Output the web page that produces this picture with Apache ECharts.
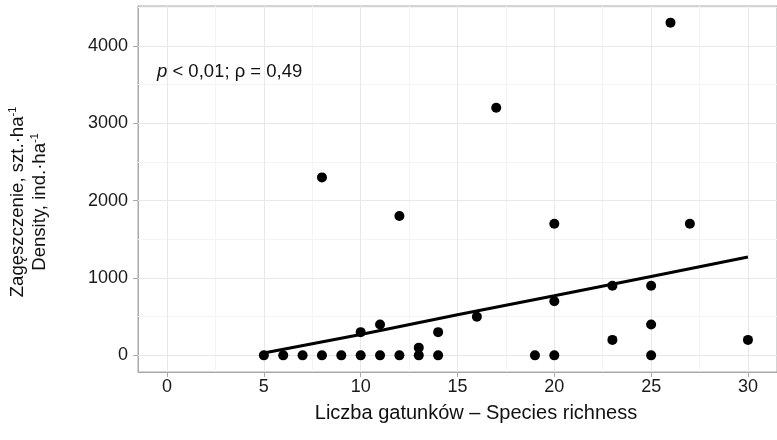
<!DOCTYPE html>
<html>
<head>
<meta charset="utf-8">
<script src="https://cdn.jsdelivr.net/npm/echarts@6/dist/echarts.min.js"></script>
<style>
  html, body { margin: 0; padding: 0; background: #fff; }
  #chart { width: 777px; height: 440px; }
</style>
</head>
<body>
<div id="chart"></div>
<script>
// observations: species richness vs density
const richness = [5, 6, 7, 8, 9, 10, 11, 12, 13, 14, 13, 14, 10, 11, 16, 19, 20, 20, 23, 23, 25, 25, 25, 30, 8, 12, 17, 20, 26, 27];
const density  = [0, 0, 0, 0, 0, 0, 0, 0, 0, 0, 100, 300, 300, 400, 500, 0, 0, 700, 200, 900, 900, 400, 0, 200, 2300, 1800, 3200, 1700, 4300, 1700];

// fitted trend line
const fitX = [5, 10, 15, 20, 25, 30];
const fitY = [30, 270, 525, 770, 1020, 1270];

// axis breaks
const xTicks = [0, 5, 10, 15, 20, 25, 30];
const xMinor = [2.5, 7.5, 12.5, 17.5, 22.5, 27.5];
const yTicks = [0, 1000, 2000, 3000, 4000];
const yMinor = [500, 1500, 2500, 3500, 4500];

const FONT = 'Liberation Sans';
const AXIS_GREY = '#a8a8a8';

const chart = echarts.init(document.getElementById('chart'));

const gridLines = [
  ...xMinor.map(v => ({ xAxis: v, lineStyle: { color: '#f4f4f4' } })),
  ...yMinor.map(v => ({ yAxis: v, lineStyle: { color: '#f4f4f4' } })),
  ...xTicks.map(v => ({ xAxis: v, lineStyle: { color: '#e8e8e8' } })),
  ...yTicks.map(v => ({ yAxis: v, lineStyle: { color: '#e8e8e8' } }))
];

chart.setOption({
  animation: false,
  backgroundColor: '#fff',

  grid: {
    left: 138, top: 6, width: 645, height: 366,
    show: true, borderColor: AXIS_GREY, borderWidth: 1
  },

  xAxis: {
    type: 'value',
    min: -1.5,
    max: 31.5,
    axisLine: { show: true, onZero: false, lineStyle: { color: AXIS_GREY, width: 1 } },
    axisTick: { show: true, length: 5, customValues: xTicks, lineStyle: { color: AXIS_GREY } },
    axisLabel: { customValues: xTicks, margin: 6, fontSize: 18, fontFamily: FONT, color: '#1a1a1a' },
    splitLine: { show: false }
  },

  yAxis: {
    type: 'value',
    min: -215,
    max: 4515,
    axisLine: { show: true, onZero: false, lineStyle: { color: AXIS_GREY, width: 1 } },
    axisTick: { show: true, length: 5, customValues: yTicks, lineStyle: { color: AXIS_GREY } },
    axisLabel: {
      customValues: yTicks,
      formatter: v => String(v),
      margin: 10, fontSize: 18, fontFamily: FONT, color: '#1a1a1a'
    },
    splitLine: { show: false }
  },

  graphic: [
    {
      type: 'text',
      x: 157, y: 72,
      style: {
        text: '{i|p} < 0,01; ρ = 0,49',
        font: '18.5px "Liberation Sans"',
        fill: '#111',
        verticalAlign: 'middle',
        rich: { i: { fontStyle: 'italic', fontSize: 18.5, fontFamily: FONT } }
      }
    },
    {
      type: 'text',
      x: 476, y: 413,
      style: {
        text: 'Liczba gatunków – Species richness',
        font: '20px "Liberation Sans"',
        fill: '#111',
        align: 'center',
        verticalAlign: 'middle'
      }
    },
    {
      type: 'text',
      x: 29, y: 202,
      rotation: Math.PI / 2,
      style: {
        text: 'Zagęszczenie, szt.·ha{sup|-1}\nDensity, ind.·ha{sup|-1}',
        font: '18.6px "Liberation Sans"',
        fill: '#111',
        align: 'center',
        verticalAlign: 'middle',
        lineHeight: 22,
        rich: {
          sup: { fontSize: 11, fontFamily: FONT, verticalAlign: 'top', lineHeight: 22 }
        }
      }
    }
  ],

  series: [
    {
      // background grid
      type: 'line',
      data: [],
      z: 1,
      silent: true,
      markLine: {
        z: 1,
        silent: true,
        symbol: 'none',
        label: { show: false },
        lineStyle: { type: 'solid', width: 1 },
        data: gridLines
      }
    },
    {
      name: 'trend',
      type: 'line',
      z: 2,
      symbol: 'none',
      lineStyle: { color: '#000', width: 3 },
      data: fitX.map((x, i) => [x, fitY[i]])
    },
    {
      name: 'sites',
      type: 'scatter',
      z: 3,
      symbolSize: 10,
      itemStyle: { color: '#000', opacity: 1 },
      data: richness.map((x, i) => [x, density[i]])
    }
  ]
});
</script>
</body>
</html>
